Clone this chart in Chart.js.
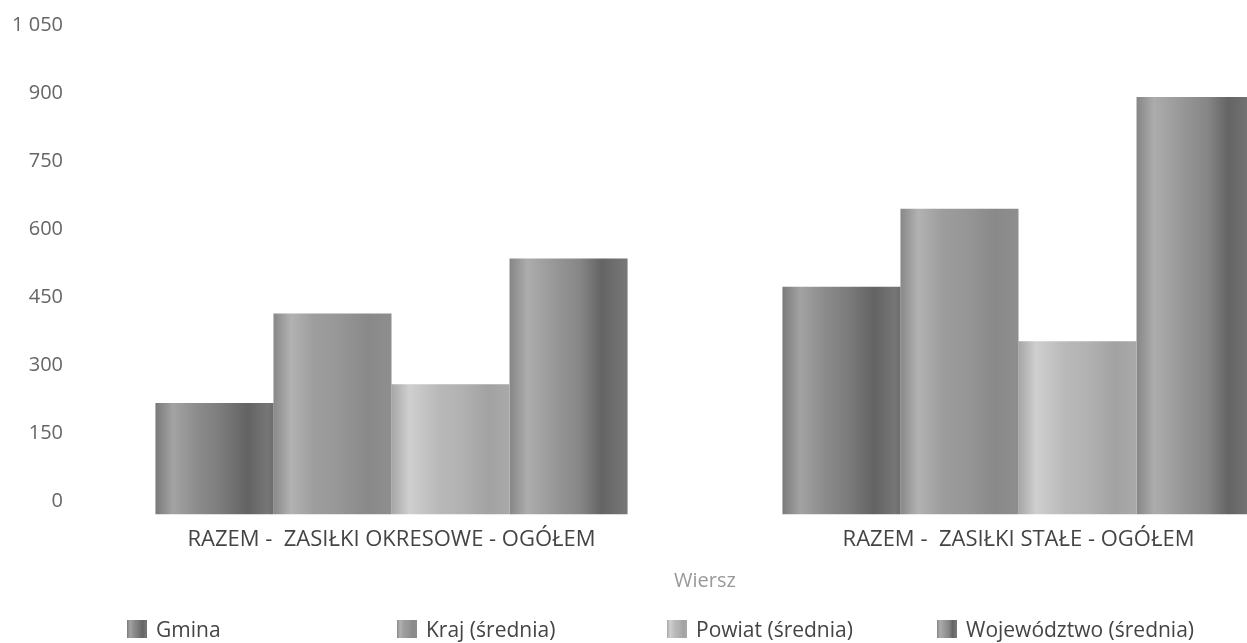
<!DOCTYPE html>
<html lang="pl">
<head>
<meta charset="utf-8">
<title>Zasiłki</title>
<script src="https://cdn.jsdelivr.net/npm/chart.js@4/dist/chart.umd.min.js"></script>
<style>
  html, body { margin: 0; padding: 0; background: #fff; overflow: hidden; }
  #wrap { position: relative; width: 1332px; height: 643px; }
  #legend { position: absolute; left: 127px; top: 617px; display: flex; font-family: 'Open Sans', sans-serif; font-size: 21px; line-height: 24px; color: #444; }
  #legend .item { width: 270px; display: flex; align-items: center; white-space: nowrap; }
  #legend .box { width: 20px; height: 18px; margin-right: 9px; }
</style>
</head>
<body>
<div id="wrap">
  <canvas id="chart" width="1332" height="643"></canvas>
  <div id="legend"></div>
</div>
<script>
const categories = ['RAZEM -  ZASIŁKI OKRESOWE - OGÓŁEM', 'RAZEM -  ZASIŁKI STAŁE - OGÓŁEM']
const seriesNames = ['Gmina', 'Kraj (średnia)', 'Powiat (średnia)', 'Województwo (średnia)']
const gmina = [246, 502]
const kraj = [443, 674]
const powiat = [287, 382]
const wojewodztwo = [564, 920]
const yTicks = [0, 150, 300, 450, 600, 750, 900, 1050]

// cieniowanie "walca" dla każdej serii (pozycja, kolor)
const shades = [
  [[0, '#7a7a7a'], [0.15, '#a3a3a3'], [0.35, '#8c8c8c'], [0.55, '#7c7c7c'], [0.78, '#636363'], [0.95, '#767676'], [1, '#6c6c6c']],
  [[0, '#888888'], [0.15, '#b2b2b2'], [0.35, '#9d9d9d'], [0.55, '#979797'], [0.8, '#898989'], [1, '#8e8e8e']],
  [[0, '#a6a6a6'], [0.15, '#cfcfcf'], [0.4, '#b9b9b9'], [0.6, '#b1b1b1'], [0.82, '#a2a2a2'], [1, '#a9a9a9']],
  [[0, '#868686'], [0.15, '#acacac'], [0.4, '#969696'], [0.6, '#868686'], [0.78, '#646464'], [1, '#787878']]
]

const CAT_PCT = 0.753

function barFill(ctx) {
  const stops = shades[ctx.datasetIndex]
  const chart = ctx.chart
  const xs = chart.scales.x
  if (ctx.type !== 'data' || !xs || !xs.width) return stops[2][1]
  const n = chart.data.labels.length
  const cat = xs.width / n
  const w = cat * CAT_PCT / chart.data.datasets.length
  const left = xs.getPixelForValue(ctx.dataIndex) - cat * CAT_PCT / 2 + ctx.datasetIndex * w
  const g = chart.ctx.createLinearGradient(left, 0, left + w, 0)
  stops.forEach(s => g.addColorStop(s[0], s[1]))
  return g
}

Chart.defaults.font.family = "'Open Sans', sans-serif"

const seriesData = [gmina, kraj, powiat, wojewodztwo]

const chart = new Chart(document.getElementById('chart'), {
  type: 'bar',
  data: {
    labels: categories,
    datasets: seriesNames.map((name, i) => ({
      label: name,
      data: seriesData[i],
      backgroundColor: barFill,
      borderWidth: 0,
      categoryPercentage: CAT_PCT,
      barPercentage: 1.0
    }))
  },
  options: {
    responsive: false,
    animation: false,
    layout: { padding: { top: 38, bottom: 50, right: 0, left: 0 } },
    plugins: {
      legend: { display: false },
      tooltip: { enabled: false }
    },
    scales: {
      y: {
        min: 0,
        max: 1050,
        afterBuildTicks: (scale) => { scale.ticks = yTicks.map(v => ({ value: v })) },
        afterFit: (scale) => { scale.width = 78 },
        grid: { display: false, drawTicks: false },
        border: { display: false },
        ticks: {
          padding: 15,
          labelOffset: -13,
          color: '#666',
          font: { size: 20 },
          callback: (v) => v >= 1000 ? Math.floor(v / 1000) + ' ' + String(v % 1000).padStart(3, '0') : String(v)
        }
      },
      x: {
        grid: { display: false, drawTicks: false },
        border: { display: false },
        ticks: { color: '#444', font: { size: 22 }, padding: 12, maxRotation: 0 },
        title: { display: true, text: 'Wiersz', color: '#999', font: { size: 20 }, padding: { top: 4, bottom: 0 } }
      }
    }
  }
})

// legenda w kolumnach o stałej szerokości
const legendEl = document.getElementById('legend')
seriesNames.forEach((name, i) => {
  const item = document.createElement('div')
  item.className = 'item'
  const box = document.createElement('span')
  box.className = 'box'
  box.style.background = 'linear-gradient(to right, ' + shades[i].map(s => s[1] + ' ' + (s[0] * 100) + '%').join(', ') + ')'
  const txt = document.createElement('span')
  txt.textContent = name
  item.appendChild(box)
  item.appendChild(txt)
  legendEl.appendChild(item)
})
</script>
</body>
</html>
